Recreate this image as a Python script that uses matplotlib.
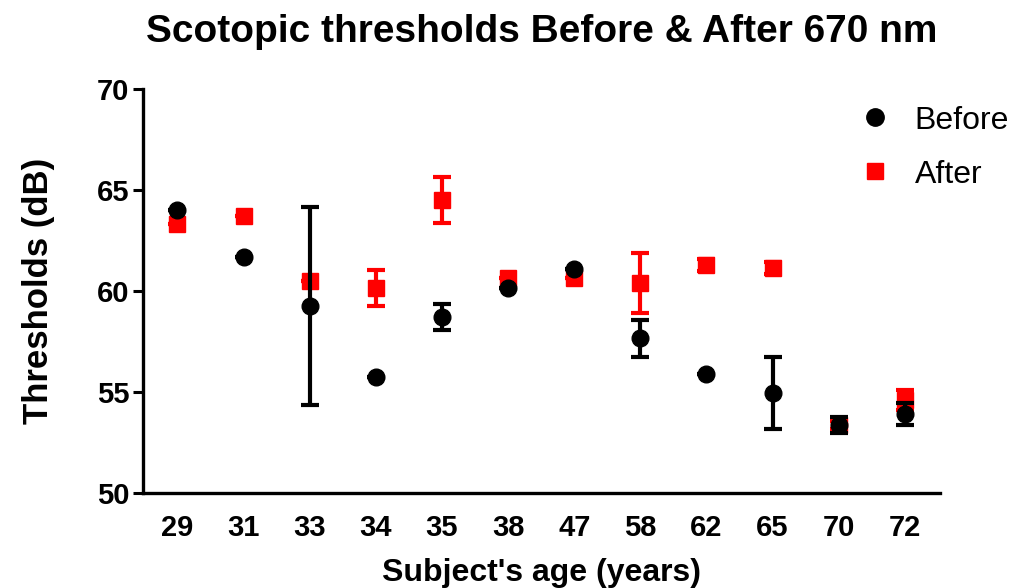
import matplotlib
matplotlib.use("Agg")
import matplotlib.pyplot as plt
from matplotlib.lines import Line2D
import numpy as np

plt.rcParams["font.family"] = ["Liberation Sans", "DejaVu Sans"]

# subject ages (categorical x axis)
ages = ["29", "31", "33", "34", "35", "38", "47", "58", "62", "65", "70", "72"]

# scotopic thresholds (dB), mean and error
before = [64.0, 61.7, 59.25, 55.75, 58.7, 60.15, 61.1, 57.65, 55.9, 54.95, 53.35, 53.9]
before_err = [0.0, 0.0, 4.9, 0.0, 0.65, 0.0, 0.0, 0.9, 0.0, 1.8, 0.4, 0.55]
after = [63.3, 63.7, 60.5, 60.15, 64.5, 60.65, 60.65, 60.4, 61.3, 61.15, 53.35, 54.6]
after_err = [0.0, 0.0, 0.0, 0.9, 1.15, 0.0, 0.0, 1.5, 0.3, 0.3, 0.2, 0.5]

fig = plt.figure(figsize=(10.25, 5.88), dpi=100)
ax = fig.add_axes([0.1395, 0.1616, 0.7775, 0.687])

x = np.arange(len(ages))

# After first, Before drawn on top
ax.errorbar(x, after, yerr=after_err, fmt="s", color="#ff0000", ms=11.5,
            elinewidth=3, capsize=6.5, capthick=3, zorder=3)
ax.errorbar(x, before, yerr=before_err, fmt="o", color="black", ms=12,
            elinewidth=3, capsize=6.5, capthick=3, zorder=4)

ax.set_xlim(-0.52, 11.53)
ax.set_ylim(50, 70)
ax.set_yticks([50, 55, 60, 65, 70])
ax.set_xticks(x)
ax.set_xticklabels(ages, fontsize=21, fontweight="bold")

for s in ["top", "right"]:
    ax.spines[s].set_visible(False)
for s in ["left", "bottom"]:
    ax.spines[s].set_linewidth(2.4)

ax.tick_params(axis="y", length=7, width=2.2, labelsize=21, pad=3)
ax.tick_params(axis="x", length=0, pad=15)
for lab in ax.get_yticklabels():
    lab.set_fontweight("bold")

ax.set_ylabel("Thresholds (dB)", fontsize=25, fontweight="bold", labelpad=30)
ax.set_xlabel("Subject's age (years)", fontsize=23, fontweight="bold", labelpad=12)
fig.suptitle("Scotopic thresholds Before & After 670 nm", fontsize=28,
             fontweight="bold", y=0.977, x=0.528)

handles = [
    Line2D([], [], marker="o", ls="none", color="black", ms=12.5),
    Line2D([], [], marker="s", ls="none", color="#ff0000", ms=11.5),
]
ax.legend(handles, ["Before", "After"], loc="upper left",
          bbox_to_anchor=(0.862, 1.03), frameon=False, fontsize=23,
          handletextpad=0.75, labelspacing=0.75, handlelength=1.0)

fig.savefig("out.png", dpi=100, facecolor="white")
